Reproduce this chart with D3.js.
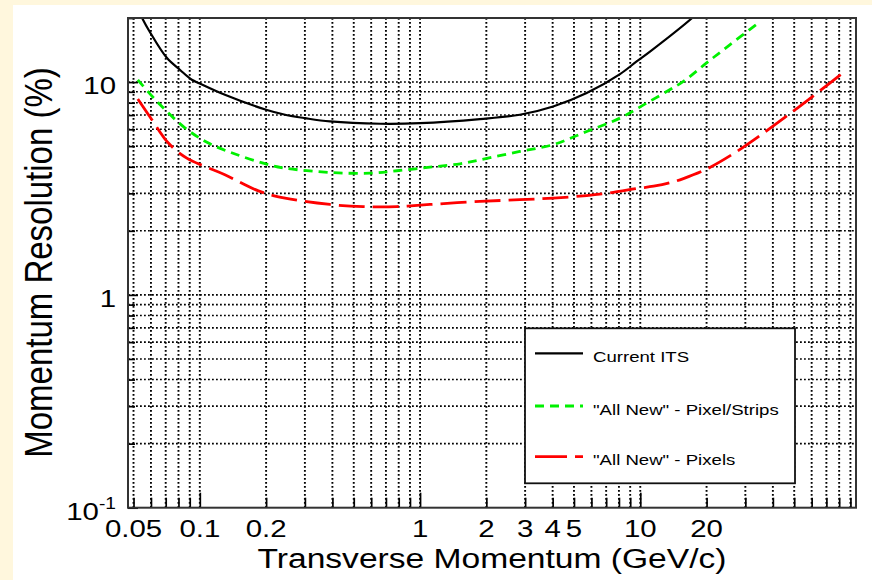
<!DOCTYPE html>
<html>
<head>
<meta charset="utf-8">
<script src="https://cdn.jsdelivr.net/npm/d3@7"></script>
<style>
  body { margin: 0; background: #FFF7DD; }
  svg { display: block; }
  text { font-family: "Liberation Sans", Arial, Helvetica, sans-serif; fill: #000; }
</style>
</head>
<body>
<svg id="chart" width="872" height="580"></svg>
<script>
// Transverse momentum (GeV/c) and momentum resolution (%) for each tracker layout
const ptCurrent  = [0.052, 0.0547, 0.0595, 0.0708, 0.0814, 0.092, 0.1, 0.13, 0.2, 0.244, 0.3, 0.39, 0.66, 1.0, 1.87, 2.84, 4.02, 5.71, 8.09, 9.63, 11.07, 17.2, 18.5];
const resCurrent = [22.5, 20.0, 17.1, 13.0, 11.4, 10.25, 9.85, 8.72, 7.41, 7.02, 6.77, 6.53, 6.37, 6.41, 6.70, 7.02, 7.68, 8.88, 10.9, 12.5, 13.9, 20.0, 21.5];

const ptPixStrips  = [0.0523, 0.0649, 0.0858, 0.1094, 0.1446, 0.205, 0.244, 0.39, 0.593, 0.784, 1.11, 1.52, 1.87, 2.84, 4.02, 5.71, 8.09, 10.7, 13.6, 15.7, 20.0, 25.5, 34.3];
const resPixStrips = [10.25, 7.97, 6.08, 5.17, 4.59, 4.09, 3.94, 3.76, 3.73, 3.83, 3.98, 4.13, 4.31, 4.72, 5.08, 5.86, 6.77, 7.97, 9.2, 10.07, 12.3, 14.96, 18.9];

const ptPixels  = [0.0523, 0.0606, 0.072, 0.0873, 0.1057, 0.13, 0.1845, 0.244, 0.39, 0.553, 0.784, 1.11, 1.87, 2.84, 4.02, 5.71, 7.54, 9.63, 11.5, 13.6, 15.7, 20.0, 26.4, 34.9, 49.5, 65.4, 86.5];
const resPixels = [8.32, 6.65, 5.17, 4.39, 4.01, 3.67, 3.08, 2.85, 2.66, 2.60, 2.60, 2.66, 2.75, 2.80, 2.85, 2.93, 3.03, 3.16, 3.24, 3.36, 3.52, 3.90, 4.60, 5.60, 7.30, 9.1, 11.4];

const xTickLabels = [0.05, 0.1, 0.2, 1, 2, 3, 4, 5, 10, 20];
const yTickLabels = [10, 1];
const yLowLabel = 0.1;

const seriesNames  = ["Current ITS", "\"All New\" - Pixel/Strips", "\"All New\" - Pixels"];
const seriesColors = ["#000000", "#00F000", "#FF0000"];
const seriesDash   = [null, "9,6", "26,8"];
const seriesWidth  = [2.2, 2.8, 2.8];

const series = [
  { pt: ptCurrent,   res: resCurrent },
  { pt: ptPixStrips, res: resPixStrips },
  { pt: ptPixels,    res: resPixels }
];

// layout
const frame = { left: 128, right: 856, top: 18, bottom: 507.7 };
const SX = 1.2; // horizontal glyph stretch

const svg = d3.select("#chart");

// white page panel
svg.append("rect").attr("x", 13).attr("y", 5).attr("width", 872 - 13).attr("height", 580 - 5).attr("fill", "#fff");

const x = d3.scaleLog().domain([0.0472, 95.4]).range([frame.left, frame.right]);
const y = d3.scaleLog().domain([0.1, 20]).range([frame.bottom, frame.top]);

svg.append("defs").append("clipPath").attr("id", "plotClip")
  .append("rect").attr("x", frame.left).attr("y", frame.top)
  .attr("width", frame.right - frame.left).attr("height", frame.bottom - frame.top);

// dotted grid at every decade subdivision
const grid = svg.append("g").attr("stroke", "#000").attr("fill", "none");
grid.selectAll("line.gx").data(x.ticks()).join("line").attr("class", "gx")
  .attr("x1", d => x(d)).attr("x2", d => x(d))
  .attr("y1", frame.top).attr("y2", frame.bottom)
  .attr("stroke-width", 1.9).attr("stroke-dasharray", "1.8,2.2");
grid.selectAll("line.gy").data(y.ticks().filter(d => d > 0.1 && d < 20)).join("line").attr("class", "gy")
  .attr("x1", frame.left).attr("x2", frame.right)
  .attr("y1", d => y(d)).attr("y2", d => y(d))
  .attr("stroke-width", 1.6).attr("stroke-dasharray", "1.8,2.2");

// inward ticks on bottom and left axes
const isDecade = d => Math.abs(Math.log10(d) - Math.round(Math.log10(d))) < 1e-9;
const xMinor = x.ticks().filter(d => !isDecade(d));
const xMajor = x.ticks().filter(isDecade);
const yMinor = y.ticks().filter(d => !isDecade(d));
const yMajor = y.ticks().filter(isDecade);

function styleAxis(g) {
  g.select(".domain").remove();
  g.selectAll("text").remove();
  g.selectAll("line").attr("stroke", "#000").attr("stroke-width", 1.7);
}
svg.append("g").attr("transform", `translate(0,${frame.bottom})`)
  .call(d3.axisBottom(x).tickValues(xMinor).tickSize(-10)).call(styleAxis);
svg.append("g").attr("transform", `translate(0,${frame.bottom})`)
  .call(d3.axisBottom(x).tickValues(xMajor).tickSize(-15)).call(styleAxis);
svg.append("g").attr("transform", `translate(${frame.left},0)`)
  .call(d3.axisLeft(y).tickValues(yMinor).tickSize(-7)).call(styleAxis);
svg.append("g").attr("transform", `translate(${frame.left},0)`)
  .call(d3.axisLeft(y).tickValues(yMajor).tickSize(-10)).call(styleAxis);

// curves
const line = d3.line().x(d => x(d[0])).y(d => y(d[1])).curve(d3.curveCatmullRom.alpha(0.5));
const plot = svg.append("g").attr("clip-path", "url(#plotClip)");
series.forEach((s, i) => {
  plot.append("path")
    .datum(s.pt.map((p, k) => [p, s.res[k]]))
    .attr("d", line)
    .attr("fill", "none")
    .attr("stroke", seriesColors[i])
    .attr("stroke-width", seriesWidth[i])
    .attr("stroke-dasharray", seriesDash[i]);
});

// frame
svg.append("rect")
  .attr("x", frame.left).attr("y", frame.top)
  .attr("width", frame.right - frame.left).attr("height", frame.bottom - frame.top)
  .attr("fill", "none").attr("stroke", "#333").attr("stroke-width", 2);

// tick labels
svg.append("g").selectAll("text").data(xTickLabels).join("text")
  .attr("transform", d => `translate(${x(d)},537) scale(${SX},1)`)
  .attr("text-anchor", "middle").attr("font-size", 24.5)
  .text(d => String(d));

svg.append("g").selectAll("text").data(yTickLabels).join("text")
  .attr("transform", d => `translate(116,${y(d) + 11.7}) scale(${SX},1)`)
  .attr("text-anchor", "end").attr("font-size", 24.5)
  .text(d => String(d));

const low = svg.append("text")
  .attr("transform", `translate(116,${y(yLowLabel) + 12.3}) scale(${SX},1)`)
  .attr("text-anchor", "end").attr("font-size", 24.5);
low.append("tspan").text("10");
low.append("tspan").attr("font-size", 16).attr("dy", -11.5).text("-1");

// axis titles
svg.append("text")
  .attr("transform", `translate(492,567.5) scale(${SX},1)`)
  .attr("text-anchor", "middle").attr("font-size", 28)
  .text("Transverse Momentum (GeV/c)");
svg.append("text")
  .attr("transform", `translate(52,262.5) scale(${SX},1) rotate(-90)`)
  .attr("text-anchor", "middle").attr("font-size", 33)
  .text("Momentum Resolution (%)");

// legend
const legend = svg.append("g");
legend.append("rect")
  .attr("x", 525).attr("y", 328.3).attr("width", 270).attr("height", 155)
  .attr("fill", "#fff").attr("stroke", "#111").attr("stroke-width", 1.8);
const legendY = [353.3, 406, 456.7];
seriesNames.forEach((name, i) => {
  legend.append("line")
    .attr("x1", 535).attr("x2", 583).attr("y1", legendY[i]).attr("y2", legendY[i])
    .attr("stroke", seriesColors[i]).attr("stroke-width", seriesWidth[i])
    .attr("stroke-dasharray", i === 2 ? "32,8" : seriesDash[i]);
  legend.append("text")
    .attr("transform", `translate(593,${legendY[i] + 8.5}) scale(${SX},1)`)
    .attr("font-size", 15.5)
    .text(name);
});
</script>
</body>
</html>
